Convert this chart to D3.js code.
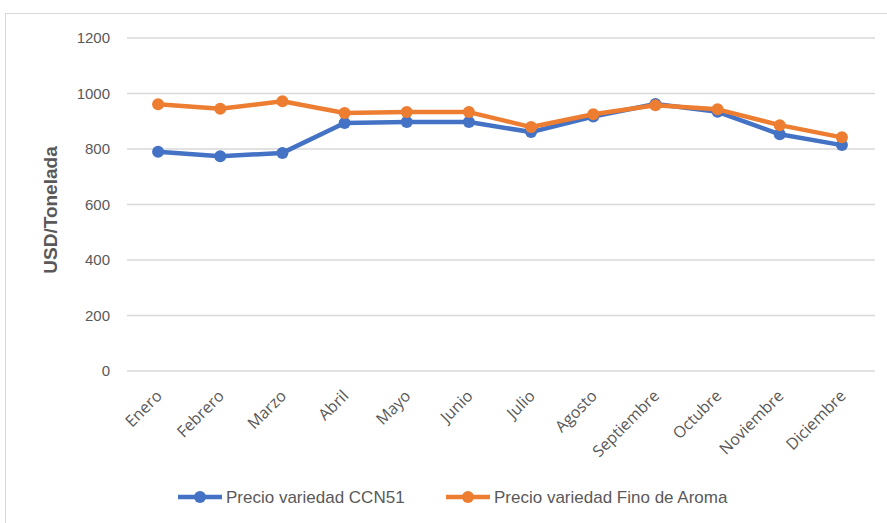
<!DOCTYPE html>
<html>
  <head>
    <script src="https://cdnjs.cloudflare.com/ajax/libs/d3/7.8.5/d3.min.js"></script>
    <meta charset="utf-8">
    <title>Precio cacao</title>
    <style>
      body { margin: 0; background: #fff; }
      svg { display: block; }
    </style>
  </head>
  <body>
    <script>
      var meses = ["Enero", "Febrero", "Marzo", "Abril", "Mayo", "Junio", "Julio",
                   "Agosto", "Septiembre", "Octubre", "Noviembre", "Diciembre"];
      var ccn51 = [790, 774, 786, 894, 897, 897, 861, 917, 962, 934, 853, 814];
      var finoAroma = [961, 945, 972, 930, 933, 933, 879, 925, 958, 943, 886, 842];
      var yTicks = [0, 200, 400, 600, 800, 1000, 1200];

      var series = [
        { name: "Precio variedad CCN51", values: ccn51, color: "#4472C4" },
        { name: "Precio variedad Fino de Aroma", values: finoAroma, color: "#ED7D31" }
      ];

      var width = 887, height = 523;
      var svg = d3.select("body").append("svg")
                  .attr("width", width)
                  .attr("height", height);

      // marco del grafico
      svg.append("rect")
         .attr("x", 5.5).attr("y", 13.5)
         .attr("width", 900).attr("height", 520)
         .attr("fill", "none")
         .attr("stroke", "#d9d9d9");

      var x = d3.scaleBand().domain(meses).range([127, 873]);
      var y = d3.scaleLinear().domain([0, 1200]).range([371, 38]);

      // rejilla
      svg.append("g").selectAll("line")
         .data(yTicks)
         .enter().append("line")
         .attr("x1", 127).attr("x2", 875)
         .attr("y1", function (d) { return y(d); })
         .attr("y2", function (d) { return y(d); })
         .attr("stroke", "#d9d9d9")
         .attr("stroke-width", 1.5);

      var yAxis = svg.append("g")
         .attr("transform", "translate(110,0)")
         .call(d3.axisLeft(y).tickValues(yTicks).tickFormat(d3.format("d")).tickSize(0).tickPadding(0));
      yAxis.select(".domain").remove();
      yAxis.selectAll("text")
           .attr("fill", "#595959")
           .style("font-family", "Liberation Sans, Arial, sans-serif")
           .style("font-size", "15px");

      var xAxis = svg.append("g")
         .attr("transform", "translate(0,389)")
         .call(d3.axisBottom(x).tickSize(0).tickPadding(0));
      xAxis.select(".domain").remove();
      xAxis.selectAll("text")
           .attr("fill", "#595959")
           .style("font-family", "Open Sans, sans-serif")
           .style("font-size", "16px")
           .attr("text-anchor", "end")
           .attr("dy", "0.7em")
           .attr("transform", "translate(-3,0) rotate(-45)");

      svg.append("text")
         .attr("transform", "translate(57,210) rotate(-90)")
         .attr("text-anchor", "middle")
         .attr("fill", "#595959")
         .style("font-family", "Liberation Sans, Arial, sans-serif")
         .style("font-size", "19px")
         .style("font-weight", "bold")
         .text("USD/Tonelada");

      var line = d3.line()
         .x(function (d, i) { return x(meses[i]) + x.bandwidth() / 2; })
         .y(function (d) { return y(d); });

      series.forEach(function (s) {
        var g = svg.append("g");
        g.append("path")
         .attr("d", line(s.values))
         .attr("fill", "none")
         .attr("stroke", s.color)
         .attr("stroke-width", 4.5)
         .attr("stroke-linejoin", "round");
        g.selectAll("circle")
         .data(s.values)
         .enter().append("circle")
         .attr("cx", function (d, i) { return x(meses[i]) + x.bandwidth() / 2; })
         .attr("cy", function (d) { return y(d); })
         .attr("r", 6)
         .attr("fill", s.color);
      });

      // leyenda
      var legendX = [178, 446];
      var legend = svg.append("g").selectAll("g")
         .data(series)
         .enter().append("g")
         .attr("transform", function (d, i) { return "translate(" + legendX[i] + ",497)"; });
      legend.append("line")
         .attr("x1", 0).attr("x2", 44)
         .attr("stroke", function (d) { return d.color; })
         .attr("stroke-width", 4.5);
      legend.append("circle")
         .attr("cx", 22).attr("r", 6)
         .attr("fill", function (d) { return d.color; });
      legend.append("text")
         .attr("x", 48).attr("dy", "0.35em")
         .attr("fill", "#595959")
         .style("font-family", "Liberation Sans, Arial, sans-serif")
         .style("font-size", "17px")
         .text(function (d) { return d.name; });
    </script>
  </body>
</html>
